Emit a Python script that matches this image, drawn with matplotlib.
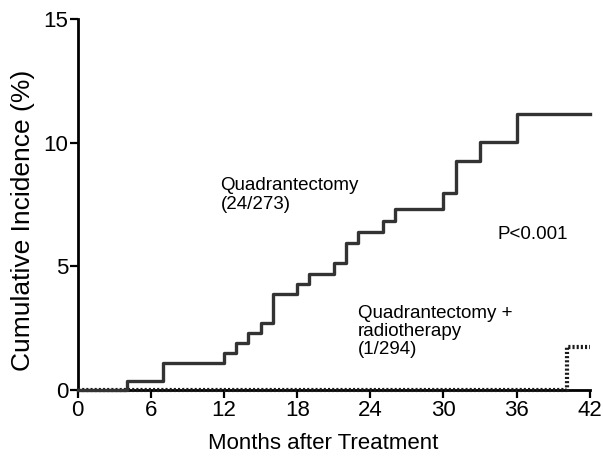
import numpy as np
import matplotlib.pyplot as plt

plt.rcParams['font.family'] = ['Liberation Sans', 'DejaVu Sans']

# step curve: quadrantectomy alone (month of event, cumulative %)
quad_months = [0, 4, 7, 12, 13, 14, 15, 16, 18, 19, 21, 22, 23, 25, 26, 30, 31, 33, 36, 42]
quad_inc = [0, 0.37, 1.1, 1.5, 1.9, 2.3, 2.7, 3.9, 4.3, 4.7, 5.15, 5.95, 6.4, 6.85, 7.3, 7.95, 9.25, 10.05, 11.15, 11.15]

# step curve: quadrantectomy + radiotherapy
qrt_months = [0, 40.1, 42]
qrt_inc = [0, 1.75, 1.75]

xticks = [0, 6, 12, 18, 24, 30, 36, 42]
yticks = [0, 5, 10, 15]

fig = plt.figure(figsize=(6.03, 4.67), dpi=100)
ax = fig.add_axes([0.129, 0.165, 0.849, 0.794])

ax.step(qrt_months, qrt_inc, where='post', color='#1a1a1a', lw=3,
        linestyle=(0, (0.5, 0.5)), zorder=3, clip_on=False)
ax.step(quad_months, quad_inc, where='post', color='#333333', lw=2.4, zorder=4, clip_on=False)

ax.set_xlim(0, 42)
ax.set_ylim(0, 15)
ax.set_xticks(xticks)
ax.set_yticks(yticks)
ax.tick_params(axis='both', which='major', labelsize=16, width=1.6, length=6, direction='out')
ax.tick_params(axis='x', pad=1)
ax.tick_params(axis='y', pad=1)

for s in ['top', 'right']:
    ax.spines[s].set_visible(False)
for s in ['left', 'bottom']:
    ax.spines[s].set_linewidth(2)

ax.set_xlabel('Months after Treatment', fontsize=16)
ax.set_ylabel('Cumulative Incidence (%)', fontsize=19)
ax.xaxis.set_label_coords(0.48, -0.115)
ax.yaxis.set_label_coords(-0.084, 0.458)

ax.text(11.7, 8.6, 'Quadrantectomy\n(24/273)', fontsize=13.5, va='top', ha='left', linespacing=1.1)
ax.text(34.4, 6.3, 'P<0.001', fontsize=13.5, va='center', ha='left')
ax.text(23.0, 3.45, 'Quadrantectomy +\nradiotherapy\n(1/294)', fontsize=13.5, va='top', ha='left', linespacing=1.1)

fig.savefig('out.png', dpi=100)
